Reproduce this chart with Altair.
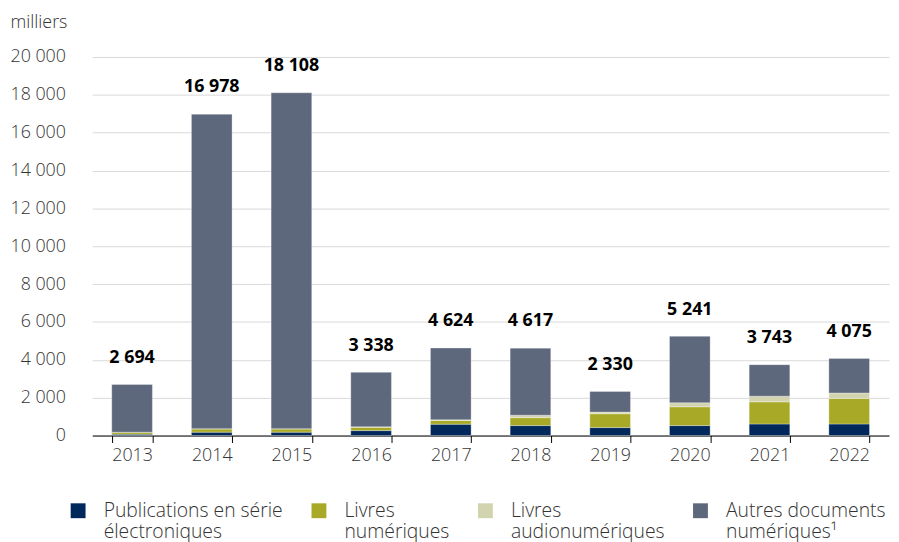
import altair as alt
import pandas as pd

years = ["2013", "2014", "2015", "2016", "2017", "2018", "2019", "2020", "2021", "2022"]
totals = [2694, 16978, 18108, 3338, 4624, 4617, 2330, 5241, 3743, 4075]
series = ["Publications en série\nélectroniques", "Livres\nnumériques      ",
          "Livres\naudionumériques", "Autres documents\nnumériques¹"]
publications = [70, 180, 180, 260, 600, 525, 420, 525, 610, 610]
livres = [100, 170, 170, 180, 200, 420, 730, 995, 1170, 1350]
audio = [10, 10, 10, 20, 30, 130, 90, 210, 300, 290]
colors = ["#00285a", "#a8aa27", "#d2d4b0", "#5e687d"]

rows = []
for i, y in enumerate(years):
    autres = totals[i] - publications[i] - livres[i] - audio[i]
    for k, v in enumerate([publications[i], livres[i], audio[i], autres]):
        rows.append({"year": y, "series": series[k], "value": v, "order": k})
df = pd.DataFrame(rows)
tot = pd.DataFrame({"year": years, "total": totals,
                    "label": [f"{t:,}".replace(",", " ") for t in totals]})

FONT = "Open Sans"
x_axis = alt.Axis(labelAngle=0, labelFontSize=18, labelColor="#333333",
                  labelFont=FONT, labelFontWeight=300, labelPadding=4,
                  domainColor="#000000",
                  tickColor="#000000", tickSize=7, tickBand="extent",
                  grid=False)
x_scale = alt.Scale(paddingInner=0.49, paddingOuter=0.245)
y_axis = alt.Axis(values=list(range(0, 20001, 2000)), tickCount=20,
                  labelExpr="replace(format(datum.value, ','), ',', ' ')",
                  labelFontSize=18, labelColor="#333333", labelFont=FONT,
                  labelFontWeight=300, labelOverlap=False,
                  labelPadding=27, domain=False, ticks=False,
                  gridColor="#d9d9d9", gridWidth=1,
                  title="milliers", titleAngle=0, titleAlign="left",
                  titleBaseline="alphabetic", titleX=-83, titleY=-30,
                  titleFont=FONT, titleFontSize=18, titleFontWeight=300,
                  titleColor="#333333")
y_scale = alt.Scale(domain=[0, 20000], nice=False)

bars = alt.Chart(df).mark_bar(stroke="#ffffff", strokeWidth=0.6, strokeOpacity=0.5).encode(
    x=alt.X("year:N", sort=years, title=None, scale=x_scale, axis=x_axis),
    y=alt.Y("value:Q", stack="zero", scale=y_scale, axis=y_axis),
    color=alt.Color("series:N", sort=series,
                    scale=alt.Scale(domain=series, range=colors),
                    legend=alt.Legend(orient="none", legendX=-24, legendY=448,
                                      direction="horizontal", columns=4,
                                      title=None, symbolType="square",
                                      symbolSize=225, symbolStrokeWidth=0,
                                      symbolOpacity=1,
                                      labelExpr="split(datum.label, '\\n')",
                                      labelFont=FONT, labelFontSize=19.5,
                                      labelFontWeight=300,
                                      labelColor="#333333", labelOffset=16,
                                      labelBaseline="middle", labelLimit=300,
                                      columnPadding=26, symbolOffset=0)),
    order=alt.Order("order:Q"),
)

labels = alt.Chart(tot).mark_text(
    font=FONT, fontSize=18, fontWeight="bold", color="#000000",
    baseline="alphabetic", dy=-22
).encode(x=alt.X("year:N", sort=years, title=None, scale=x_scale, axis=x_axis),
         y=alt.Y("total:Q", title="milliers", scale=y_scale, axis=y_axis),
         text="label:N")

chart = alt.layer(bars, labels).properties(
    width=804, height=382,
    autosize=alt.AutoSizeParams(type="none"),
    padding={"left": 85, "top": 47, "right": 2, "bottom": 105},
).configure_view(stroke=None)

chart.save("out.html", embed_options={"renderer": "svg", "actions": False})
